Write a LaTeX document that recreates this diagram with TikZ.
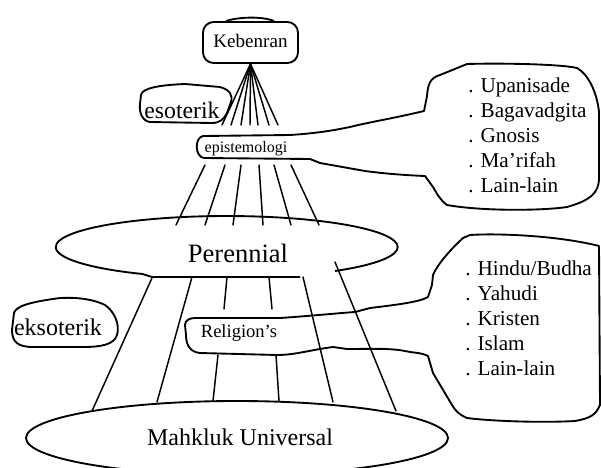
\documentclass[tikz,border=0pt]{standalone}
\usepackage{fontspec}
\setmainfont{Liberation Serif}
\usetikzlibrary{positioning}

\begin{document}
\begin{tikzpicture}[
    x=0.75pt, y=-0.75pt,
    rule/.style={line width=1.1pt, line cap=round},
    sketch/.style={line width=1.4pt, line join=round},
    lbl/.style={inner sep=0pt, anchor=base},
    items/.style={inner sep=0pt, anchor=base west, align=left,
      font=\fontsize{15.9}{18.7}\selectfont}
  ]
  \useasboundingbox (0,0) rectangle (601,468);

  % puncak
  \node[draw, sketch, rounded corners=8pt, minimum width=71.25pt,
    minimum height=30.75pt, text depth=0.3em,
    font=\fontsize{14.3}{17}\selectfont] (keb) at (250.5,42.5) {Kebenran};
  \draw[sketch] (226,21) .. controls (238,17) and (262,16) .. (274,21);
  \foreach \x in {222,231,241,250,258,269,278}
    \draw[rule] (keb.south) -- (\x,125);

  % esoterik
  \node[lbl, font=\fontsize{17.8}{20}\selectfont] (eso) at (182,118) {esoterik};
  \draw[sketch] (141,95) .. controls (142,88) and (160,85) .. (185,84)
    -- (220,87) .. controls (230,90) and (233,95) .. (231,102)
    -- (227,113) .. controls (224,119) and (220,123) .. (212,123)
    -- (150,122) .. controls (142,121) and (139,112) .. (140,104) -- cycle;

  % epistemologi + daftar atas
  \node[lbl, font=\fontsize{12}{14}\selectfont] (epi) at (246,152) {epistemologi};
  \draw[sketch] (203,136) -- (290,135)
    .. controls (320,133) and (335,130) .. (350,127)
    .. controls (370,122) and (395,118) .. (424,111)
    -- (427,96) .. controls (428,84) and (430,78) .. (440,75)
    -- (467,64) .. controls (500,63) and (560,64) .. (577,68)
    .. controls (588,74) and (597,92) .. (599,112)
    -- (599,180) .. controls (598,192) and (592,200) .. (567,207)
    .. controls (540,211) and (480,211) .. (447,205)
    .. controls (440,200) and (436,192) .. (433,187)
    -- (425,176) .. controls (400,175) and (380,173) .. (365,171)
    -- (320,163) -- (310,159) -- (204,158)
    .. controls (195,157) and (194,138) .. (203,136) -- cycle;
  \node[items] (jalan) at (468,192)
    {. Upanisade\\. Bagavadgita\\. Gnosis\\. Ma'rifah\\. Lain-lain};

  \foreach \a/\b in {205/176,225/205,241/233,259/263,274/291,291/319}
    \draw[rule] (\a,165) -- (\b,225);

  % perennial
  \draw[sketch] (335,271) arc[start angle=50.7, end angle=-240.4,
    x radius=171, y radius=31] -- (152,277) -- (300,277);
  \node[lbl, font=\fontsize{19.9}{22}\selectfont] (per) at (238,262) {Perennial};

  \foreach \a/\b/\c/\d in {152/278/92/411,192/277/157/402,
      303/277/333/402,335/262/396/411}
    \draw[rule] (\a,\b) -- (\c,\d);
  \draw[rule] (227,277) -- (224,309) (218,355) -- (213,401);
  \draw[rule] (269,277) -- (272,309) (276,355) -- (279,401);

  % eksoterik
  \node[lbl, font=\fontsize{18}{21}\selectfont] (eks) at (58,335) {eksoterik};
  \draw[sketch] (14,313) .. controls (16,306) and (30,302) .. (60,298)
    .. controls (80,297) and (95,300) .. (105,305)
    .. controls (115,312) and (120,325) .. (117,335)
    .. controls (114,345) and (100,347) .. (83,347)
    -- (33,347) .. controls (18,347) and (12,342) .. (12,330) -- cycle;

  % religion's + daftar bawah
  \node[lbl, font=\fontsize{13.9}{16}\selectfont] (rel) at (239,337) {Religion's};
  \draw[sketch] (195,318) -- (280,318)
    .. controls (310,316) and (340,313) .. (355,312) -- (370,308)
    .. controls (395,305) and (420,302) .. (428,297)
    -- (432,285) -- (433,275) .. controls (437,265) and (450,250) .. (463,238)
    -- (470,235) .. controls (500,233) and (560,236) .. (599,246)
    -- (600,405) .. controls (596,414) and (592,418) .. (575,421)
    .. controls (540,423) and (490,421) .. (467,418)
    .. controls (458,414) and (455,410) .. (452,405)
    -- (433,373) -- (428,356) .. controls (420,352) and (412,353) .. (405,351)
    .. controls (390,348) and (370,349) .. (347,349) -- (333,347)
    .. controls (310,350) and (295,355) .. (277,355) -- (200,353)
    .. controls (190,352) and (186,345) .. (186,335)
    -- (185,325) .. controls (185,320) and (190,318) .. (195,318) -- cycle;
  \node[items] (agama) at (465,375)
    {. Hindu/Budha\\. Yahudi\\. Kristen\\. Islam\\. Lain-lain};

  % mahkluk
  \draw[sketch] (237,438) ellipse[x radius=211, y radius=37];
  \node[lbl, font=\fontsize{18}{21}\selectfont] (mak) at (240,445) {Mahkluk Universal};
\end{tikzpicture}
\end{document}
